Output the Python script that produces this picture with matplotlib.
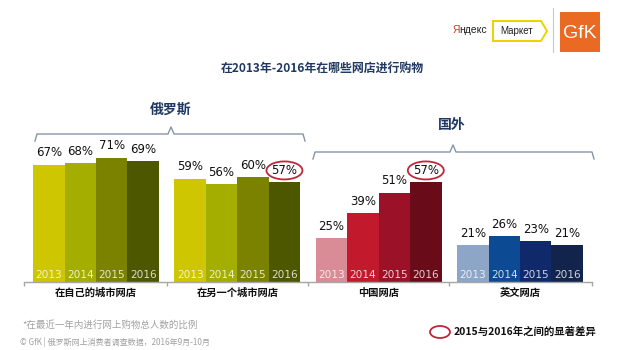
import matplotlib
matplotlib.use('Agg')
import matplotlib.pyplot as plt
from matplotlib.patches import Ellipse, Polygon, Rectangle
from matplotlib.lines import Line2D

plt.rcParams['font.family'] = ['Noto Sans CJK SC', 'DejaVu Sans']

# ---------------- data ----------------
title = "在2013年-2016年在哪些网店进行购物"
categories = ["在自己的城市网店", "在另一个城市网店", "中国网店", "英文网店"]
years = ["2013", "2014", "2015", "2016"]
own_city = [67, 68, 71, 69]
other_city = [59, 56, 60, 57]
china = [25, 39, 51, 57]
english = [21, 26, 23, 21]
region_labels = ["俄罗斯", "国外"]
highlight = [(1, 3), (2, 3)]  # (group, year index) circled
legend_text = "2015与2016年之间的显著差异"
footnote1 = "*在最近一年内进行网上购物总人数的比例"
footnote2 = "© GfK | 俄罗斯网上消费者调查数据，2016年9月-10月"

values = [own_city, other_city, china, english]
olive = ["#cdc600", "#a4ae00", "#7a8200", "#4d5700"]
reds = ["#d98b96", "#c3192d", "#9a1128", "#690b19"]
blues = ["#8da6c8", "#0c4a93", "#10296b", "#13244c"]
colors = [olive, olive, reds, blues]

W, H = 623, 350
fig = plt.figure(figsize=(W / 100, H / 100), dpi=100)
fig.patch.set_facecolor("white")


def fx(x):
    return x / W


def fy(y):
    return 1 - y / H


ax = fig.add_axes([24 / W, (H - 281.5) / H, 568 / W, 174.5 / H])
group_gap = 4.5
for g, vals in enumerate(values):
    xs = [g * group_gap + i for i in range(len(vals))]
    ax.bar(xs, vals, width=1.0, color=colors[g], linewidth=0)
    for x, v, yr in zip(xs, vals, years):
        ax.annotate(f"{v}%", (x, v), xytext=(0, 8.4), textcoords="offset points",
                    ha="center", va="center", fontsize=8.5, family="DejaVu Sans",
                    color="#111111")
        ax.annotate(yr, (x, 0), xytext=(0, 4.7), textcoords="offset points",
                    ha="center", va="center", fontsize=7.6, family="DejaVu Sans",
                    color="white", alpha=0.8)
    ax.text(g * group_gap + 1.5, -0.066, categories[g], transform=ax.get_xaxis_transform(),
            ha="center", va="center", fontsize=7.4, fontweight="bold", color="#111111")

ax.set_xlim(-0.79, 17.29)
ax.set_ylim(0, 100)
for s in ["top", "left", "right"]:
    ax.spines[s].set_visible(False)
ax.spines["bottom"].set_color("#a6a6a6")
ax.spines["bottom"].set_linewidth(1.0)
ax.set_yticks([])
ax.set_xticks([-0.78, 3.75, 8.25, 12.75, 17.28])
ax.set_xticklabels([])
ax.tick_params(axis="x", length=3, color="#a6a6a6", direction="out", width=1)
ax.patch.set_alpha(0)

# highlight ellipses around labels
fig.canvas.draw()
inv = fig.transFigure.inverted()
for g, i in highlight:
    x = g * group_gap + i
    v = values[g][i]
    dx, dy = ax.transData.transform((x, v))
    cx, cy = inv.transform((dx, dy + 11.6))
    fig.add_artist(Ellipse((cx, cy), 36 / W, 18 / H, facecolor="none",
                           edgecolor="#c0283a", linewidth=1.3))

# brackets
navy = "#1f3864"
bc = "#8495a8"
fig.add_artist(Line2D([fx(35), fx(37), fx(168), fx(171), fx(174), fx(303), fx(305)],
                      [fy(141), fy(134), fy(134), fy(127), fy(134), fy(134), fy(141)],
                      color=bc, linewidth=1.0))
fig.add_artist(Line2D([fx(313), fx(315), fx(450), fx(453), fx(456), fx(592), fx(594)],
                      [fy(159), fy(152), fy(152), fy(145), fy(152), fy(152), fy(159)],
                      color=bc, linewidth=1.0))
fig.text(fx(171), fy(110), region_labels[0], ha="center", va="center", fontsize=10,
         fontweight="bold", color=navy)
fig.text(fx(452), fy(125), region_labels[1], ha="center", va="center", fontsize=10,
         fontweight="bold", color=navy)

# title
fig.text(fx(322), fy(68), title, ha="center", va="center", fontsize=8.6,
         fontweight="bold", color=navy)

# legend
fig.add_artist(Ellipse((fx(440), fy(332)), 20 / W, 12 / H, facecolor="none",
                       edgecolor="#c0283a", linewidth=1.3))
fig.text(fx(454), fy(332), legend_text, ha="left", va="center", fontsize=7.5,
         fontweight="bold", color="#111111")

# footnotes
fig.text(fx(22), fy(325), footnote1, ha="left", va="center", fontsize=6.8,
         style="italic", color="#a0a0a0")
fig.text(fx(20), fy(342), footnote2, ha="left", va="center", fontsize=5.8,
         color="#a0a0a0")

# logos
fig.text(fx(453), fy(30), "Я", ha="left", va="center", fontsize=7.5,
         family="Liberation Sans", color="#e0302a")
fig.text(fx(459.5), fy(30), "ндекс", ha="left", va="center", fontsize=7.5,
         family="Liberation Sans", color="#222222")
fig.add_artist(Polygon([(fx(493), fy(21)), (fx(541), fy(21)), (fx(547), fy(31)),
                        (fx(541), fy(41)), (fx(493), fy(41))], closed=True,
                       facecolor="white", edgecolor="#f0d000", linewidth=1.4))
fig.text(fx(517), fy(31), "Маркет", ha="center", va="center", fontsize=7,
         family="Liberation Sans", color="#222222")
fig.add_artist(Line2D([fx(553), fx(553)], [fy(8), fy(52)], color="#c8c8c8", linewidth=0.8))
fig.add_artist(Rectangle((fx(560), fy(52)), 40 / W, 40 / H, facecolor="#ea6a24",
                         edgecolor="none"))
fig.text(fx(580), fy(33), "GfK", ha="center", va="center", fontsize=14,
         family="Liberation Sans", color="white")

fig.savefig("out.png", dpi=100, facecolor="white")
